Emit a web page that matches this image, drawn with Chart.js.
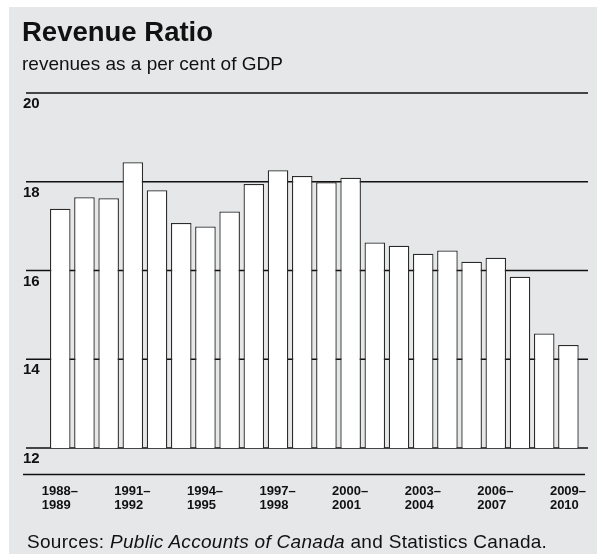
<!DOCTYPE html>
<html>
<head>
<meta charset="utf-8">
<title>Revenue Ratio</title>
<script src="https://cdn.jsdelivr.net/npm/chart.js@4"></script>
<style>
  html, body { margin: 0; padding: 0; background: #fff; }
  body { width: 597px; height: 554px; position: relative; overflow: hidden;
         font-family: "Liberation Sans", Arial, Helvetica, sans-serif; color: #111; }
  .panel { position: absolute; left: 9px; top: 7px; right: 0; bottom: 0; background: #e6e7e8; }
  .txt { position: absolute; left: 22px; white-space: nowrap; line-height: 1; }
  #title { top: 18px; font-size: 27.5px; font-weight: bold; }
  #subtitle { top: 54px; font-size: 19px; }
  #sources { top: 532px; left: 27px; font-size: 19px; letter-spacing: 0.3px; }
  #chartCanvas { position: absolute; left: 0; top: 0; }
</style>
</head>
<body>
<div class="panel"></div>
<canvas id="chartCanvas" width="597" height="554"></canvas>
<div class="txt" id="title">Revenue Ratio</div>
<div class="txt" id="subtitle">revenues as a per cent of GDP</div>
<div class="txt" id="sources">Sources: <i>Public Accounts of Canada</i> and Statistics Canada.</div>

<script>
  const fiscalYears = [
    '1988–1989', '1989–1990', '1990–1991', '1991–1992', '1992–1993', '1993–1994',
    '1994–1995', '1995–1996', '1996–1997', '1997–1998', '1998–1999', '1999–2000',
    '2000–2001', '2001–2002', '2002–2003', '2003–2004', '2004–2005', '2005–2006',
    '2006–2007', '2007–2008', '2008–2009', '2009–2010'
  ];
  // revenues as % of GDP
  const revenueRatio = [
    17.39, 17.65, 17.63, 18.44, 17.81, 17.07, 16.99, 17.33, 17.95, 18.26, 18.13,
    17.99, 18.09, 16.63, 16.56, 16.38, 16.45, 16.20, 16.29, 15.86, 14.58, 14.32
  ];
  const yTicks = [12, 14, 16, 18, 20];

  const FONT = '"Liberation Sans", Arial, Helvetica, sans-serif';

  // horizontal rules behind the bars: one per y tick, plus the rule above the year labels
  const rulesPlugin = {
    id: 'rules',
    beforeDraw(chart) {
      const ctx = chart.ctx;
      const y = chart.scales.y;
      const x = chart.scales.x;
      ctx.save();
      ctx.strokeStyle = '#111';
      ctx.lineWidth = 1.5;
      ctx.beginPath();
      yTicks.forEach(v => {
        const py = y.getPixelForValue(v);
        ctx.moveTo(26, py);
        ctx.lineTo(588, py);
      });
      const sep = x.top + 26.5;
      ctx.moveTo(23, sep);
      ctx.lineTo(585, sep);
      ctx.stroke();
      ctx.restore();
    }
  };

  const ctx = document.getElementById('chartCanvas').getContext('2d');
  const chart = new Chart(ctx, {
    type: 'bar',
    data: {
      labels: fiscalYears,
      datasets: [{
        data: revenueRatio,
        backgroundColor: 'rgb(255,255,255)',
        borderColor: '#2b2b2b',
        borderWidth: 1.3,
        borderSkipped: false,
        categoryPercentage: 1,
        barPercentage: 0.85
      }]
    },
    options: {
      responsive: false,
      animation: false,
      layout: { padding: { left: 23, right: 16.5, top: 93, bottom: 0 } },
      plugins: {
        legend: { display: false },
        tooltip: { enabled: false },
        title: { display: false }
      },
      scales: {
        x: {
          offset: true,
          grid: { display: false },
          border: { display: false },
          ticks: {
            autoSkip: false,
            maxRotation: 0,
            align: 'start',
            labelOffset: -18.5,
            padding: 29,
            color: '#111',
            font: { family: FONT, size: 13, weight: 'bold', lineHeight: 1.05 },
            callback(value, i) {
              if (i % 3 !== 0) return '';
              const parts = fiscalYears[i].split('–');
              return [parts[0] + '–', parts[1]];
            }
          },
          afterFit(scale) {
            scale.height = 106;
            scale.paddingLeft = 0;
            scale.paddingRight = 0;
          }
        },
        y: {
          min: 12,
          max: 20,
          grid: { display: false },
          border: { display: false },
          afterBuildTicks(scale) {
            scale.ticks = yTicks.map(v => ({ value: v }));
          },
          ticks: {
            crossAlign: 'far',
            labelOffset: 11,
            color: '#111',
            font: { family: FONT, size: 15, weight: 'bold' }
          },
          afterFit(scale) {
            scale.width = 25.15;
            scale.paddingTop = 0;
            scale.paddingBottom = 0;
          }
        }
      }
    },
    plugins: [rulesPlugin]
  });
</script>
</body>
</html>
